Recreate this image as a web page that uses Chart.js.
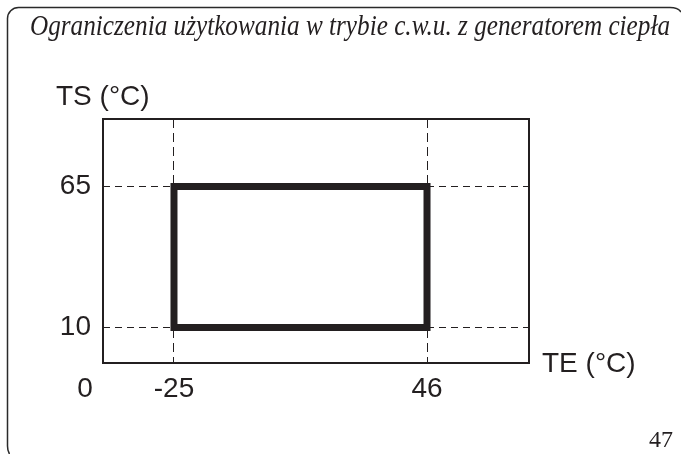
<!DOCTYPE html>
<html>
<head>
<meta charset="utf-8">
<script src="https://cdn.jsdelivr.net/npm/chart.js@4.4.1/dist/chart.umd.min.js"></script>
<style>
  html, body { margin: 0; padding: 0; background: #ffffff; }
  #wrap { position: relative; width: 681px; height: 454px; }
</style>
</head>
<body>
<div id="wrap"><canvas id="c" width="681" height="454"></canvas></div>
<script>
// ---- data ----
const titleText = 'Ograniczenia użytkowania w trybie c.w.u. z generatorem ciepła';
const yAxisTitle = 'TS (°C)';
const xAxisTitle = 'TE (°C)';
const originLabel = '0';
const pageNumber = '47';
const xTicks = [-25, 46];
const yTicks = [10, 65];
const limitTE = [-25, -25, 46, 46, -25];
const limitTS = [10, 65, 65, 10, 10];

const INK = '#231f20';
const SANS = '"Liberation Sans", Arial, sans-serif';

const decorPlugin = {
  id: 'decor',
  beforeDraw(chart) {
    const ctx = chart.ctx;
    ctx.save();
    ctx.fillStyle = '#ffffff';
    ctx.fillRect(0, 0, chart.width, chart.height);
    ctx.restore();
  },
  afterDraw(chart) {
    const ctx = chart.ctx;
    const a = chart.chartArea;
    ctx.save();
    // outer page frame
    ctx.strokeStyle = '#2a2a2a';
    ctx.lineWidth = 1.5;
    ctx.beginPath();
    ctx.moveTo(9.5, 454);
    ctx.quadraticCurveTo(7.5, 451, 7.5, 446);
    ctx.lineTo(7.5, 18);
    ctx.arcTo(7.5, 7.5, 18, 7.5, 11);
    ctx.lineTo(670, 7.5);
    ctx.quadraticCurveTo(678, 7.5, 681, 12);
    ctx.stroke();

    // plot box
    ctx.strokeStyle = INK;
    ctx.lineWidth = 2;
    ctx.strokeRect(a.left, a.top, a.right - a.left, a.bottom - a.top);

    // title (italic serif, fitted to width)
    ctx.fillStyle = INK;
    ctx.font = 'italic 29px "Liberation Serif", "DejaVu Serif", serif';
    ctx.textBaseline = 'alphabetic';
    ctx.textAlign = 'left';
    const w = ctx.measureText(titleText).width;
    const target = 640;
    ctx.save();
    ctx.translate(30, 35);
    ctx.scale(target / w, 1);
    ctx.fillText(titleText, 0, 0);
    ctx.restore();

    // axis titles and origin label
    ctx.font = '28px ' + SANS;
    ctx.fillText(yAxisTitle, 56, 105);
    ctx.fillText(xAxisTitle, 542, 372);
    ctx.textAlign = 'center';
    ctx.fillText(originLabel, 85, 397);

    // page number
    ctx.textAlign = 'right';
    ctx.font = '24px "Liberation Serif", "DejaVu Serif", serif';
    ctx.fillText(pageNumber, 673, 447);
    ctx.restore();
  }
};

new Chart(document.getElementById('c'), {
  type: 'line',
  data: {
    datasets: [{
      data: limitTE.map((x, i) => ({ x: x, y: limitTS[i] })),
      borderColor: INK,
      borderWidth: 7,
      borderJoinStyle: 'miter',
      borderCapStyle: 'square',
      pointRadius: 0,
      fill: false,
      tension: 0
    }]
  },
  options: {
    responsive: false,
    devicePixelRatio: 1,
    animation: false,
    layout: { padding: { left: 0, top: 119, right: 152, bottom: 0 } },
    plugins: { legend: { display: false }, tooltip: { enabled: false }, title: { display: false } },
    scales: {
      x: {
        type: 'linear',
        min: -44.92,
        max: 74.62,
        afterBuildTicks(scale) { scale.ticks = xTicks.map(v => ({ value: v })); },
        afterFit(scale) { scale.height = 91; },
        ticks: {
          color: INK,
          font: { family: SANS, size: 28 },
          padding: 9,
          maxRotation: 0,
          autoSkip: false,
          callback: v => String(v)
        },
        grid: { color: INK, lineWidth: 1, drawTicks: false, tickLength: 0 },
        border: { display: false, dash: [9, 5] }
      },
      y: {
        type: 'linear',
        min: -3.85,
        max: 91.33,
        afterBuildTicks(scale) { scale.ticks = yTicks.map(v => ({ value: v })); },
        afterFit(scale) { scale.width = 103; },
        ticks: {
          color: INK,
          font: { family: SANS, size: 28 },
          padding: 12,
          autoSkip: false,
          callback: v => String(v)
        },
        grid: { color: INK, lineWidth: 1, drawTicks: false, tickLength: 0 },
        border: { display: false, dash: [7, 5] }
      }
    }
  },
  plugins: [decorPlugin]
});
</script>
</body>
</html>
